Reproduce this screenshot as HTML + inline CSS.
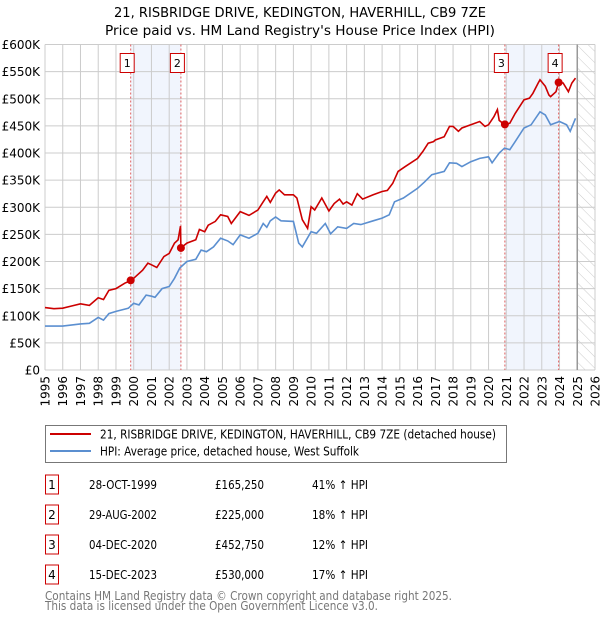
<!DOCTYPE html>
<html><head><meta charset="utf-8"><style>
body{margin:0;background:#fff;font-family:"DejaVu Sans","Liberation Sans",sans-serif;}
svg text{font-family:"DejaVu Sans","Liberation Sans",sans-serif;}
</style></head><body>
<svg id="chart" width="600" height="620" xmlns="http://www.w3.org/2000/svg">
<defs>
<pattern id="hatch" patternUnits="userSpaceOnUse" width="8" height="8" patternTransform="rotate(-45)">
<line x1="0" y1="0" x2="0" y2="8" stroke="#ccc" stroke-width="1"/>
</pattern>
</defs>
<text x="300" y="17" text-anchor="middle" font-size="13" textLength="372" lengthAdjust="spacingAndGlyphs">21, RISBRIDGE DRIVE, KEDINGTON, HAVERHILL, CB9 7ZE</text>
<text x="300" y="35" text-anchor="middle" font-size="13" textLength="390" lengthAdjust="spacingAndGlyphs">Price paid vs. HM Land Registry's House Price Index (HPI)</text>
<g id="plot"></g>
<g>
<rect x="45.5" y="425.5" width="461" height="37" fill="#fff" stroke="#777"/>
<line x1="50" y1="434" x2="91" y2="434" stroke="#cc0000" stroke-width="2"/>
<text x="100" y="438.5" font-size="12" textLength="396" lengthAdjust="spacingAndGlyphs">21, RISBRIDGE DRIVE, KEDINGTON, HAVERHILL, CB9 7ZE (detached house)</text>
<line x1="50" y1="451" x2="91" y2="451" stroke="#5b8fd0" stroke-width="2"/>
<text x="100" y="455.5" font-size="12" textLength="259" lengthAdjust="spacingAndGlyphs">HPI: Average price, detached house, West Suffolk</text>
</g>
<g id="table"></g>
<text x="45" y="600" font-size="12" fill="#777" textLength="407" lengthAdjust="spacingAndGlyphs">Contains HM Land Registry data © Crown copyright and database right 2025.</text>
<text x="45" y="610" font-size="12" fill="#777" textLength="333" lengthAdjust="spacingAndGlyphs">This data is licensed under the Open Government Licence v3.0.</text>
</svg>
<script>
const yTicks=[0,50,100,150,200,250,300,350,400,450,500,550,600];
const yTickLabels=["£0","£50K","£100K","£150K","£200K","£250K","£300K","£350K","£400K","£450K","£500K","£550K","£600K"];
const xYears=[1995,1996,1997,1998,1999,2000,2001,2002,2003,2004,2005,2006,2007,2008,2009,2010,2011,2012,2013,2014,2015,2016,2017,2018,2019,2020,2021,2022,2023,2024,2025,2026];
const redT=[1995.0,1995.5,1996.0,1996.5,1997.0,1997.5,1998.0,1998.3,1998.6,1999.0,1999.5,1999.83,2000.0,2000.5,2000.8,2001.0,2001.3,2001.7,2002.0,2002.3,2002.5,2002.64,2002.66,2003.0,2003.5,2003.7,2004.0,2004.2,2004.6,2004.9,2005.3,2005.5,2006.0,2006.5,2007.0,2007.3,2007.5,2007.7,2008.0,2008.2,2008.5,2009.0,2009.2,2009.5,2009.8,2010.0,2010.2,2010.6,2011.0,2011.3,2011.6,2011.8,2012.0,2012.3,2012.6,2012.9,2013.5,2014.0,2014.3,2014.6,2014.9,2015.3,2016.0,2016.3,2016.6,2016.9,2017.0,2017.5,2017.8,2018.0,2018.3,2018.5,2019.0,2019.5,2019.8,2020.0,2020.3,2020.5,2020.6,2020.92,2021.2,2021.5,2022.0,2022.3,2022.5,2022.8,2022.9,2023.2,2023.4,2023.5,2023.8,2023.95,2024.2,2024.5,2024.7,2024.9];
const redV=[115,113,114,118,122,119,133,130,147,150,160,165,169,184,197,194,189,209,215,234,240,265,225,234,240,259,255,267,274,286,283,270,292,285,295,310,320,309,326,332,323,323,317,277,261,301,295,317,293,307,315,306,310,304,325,315,323,329,331,344,366,375,390,403,418,421,424,430,449,449,440,446,452,458,449,452,467,480,460,452,455,473,498,501,510,529,535,523,507,504,513,530,529,513,529,538];
const blueT=[1995.0,1996.0,1997.0,1997.5,1998.0,1998.3,1998.6,1999.0,1999.7,2000.0,2000.3,2000.7,2001.0,2001.2,2001.6,2002.0,2002.3,2002.6,2003.0,2003.5,2003.8,2004.1,2004.5,2004.9,2005.3,2005.6,2006.0,2006.5,2007.0,2007.3,2007.5,2007.7,2008.0,2008.3,2009.0,2009.3,2009.5,2010.0,2010.3,2010.8,2011.1,2011.5,2012.0,2012.4,2012.8,2013.5,2014.0,2014.4,2014.7,2015.2,2016.0,2016.4,2016.8,2017.5,2017.8,2018.2,2018.5,2019.0,2019.5,2020.0,2020.2,2020.6,2020.9,2021.2,2021.5,2022.0,2022.4,2022.9,2023.2,2023.5,2024.0,2024.4,2024.6,2024.9];
const blueV=[81,81,85,86,97,92,104,108,114,123,120,138,136,134,150,154,169,188,200,204,221,218,227,243,238,231,249,243,252,270,263,275,282,275,274,234,227,255,252,270,251,264,261,270,268,275,280,286,310,317,335,347,360,366,382,381,375,384,390,393,382,400,409,406,421,446,452,476,470,452,458,452,440,464];
const saleT=[1999.83,2002.66,2020.92,2023.95];
const saleV=[165.25,225,452.75,530];
const saleDates=["28-OCT-1999","29-AUG-2002","04-DEC-2020","15-DEC-2023"];
const salePrices=["£165,250","£225,000","£452,750","£530,000"];
const saleHpi=["41% ↑ HPI","18% ↑ HPI","12% ↑ HPI","17% ↑ HPI"];

const NS="http://www.w3.org/2000/svg";
const L=45,R=595,T=44.5,B=370;
const x=t=>L+(t-1995)/(2026-1995)*(R-L);
const y=v=>B-v/600*(B-T);
function mk(tag,attrs,parent){const e=document.createElementNS(NS,tag);for(const k in attrs)e.setAttribute(k,attrs[k]);parent.appendChild(e);return e;}
const plot=document.getElementById('plot');
for(let i=0;i<4;i+=2){
 const r=mk('rect',{x:x(saleT[i]),y:T,width:x(saleT[i+1])-x(saleT[i]),height:B-T,fill:'#eef3fc',opacity:0.8},plot);
 
 
}
yTicks.forEach((v,i)=>{
 const g=mk('line',{x1:L,x2:R,y1:y(v),y2:y(v),stroke:'#ccc','stroke-width':1},plot);
 
 
 const t=mk('text',{x:40,y:y(v)+4.5,'text-anchor':'end','font-size':12},plot);
 t.textContent=yTickLabels[i];
 
 
});
xYears.forEach(yr=>{
 const g=mk('line',{x1:x(yr),x2:x(yr),y1:T,y2:B,stroke:'#ccc','stroke-width':1},plot);
 
 
 const t=mk('text',{transform:`translate(${x(yr)+4.5},376) rotate(-90)`,'text-anchor':'end','font-size':12},plot);
 t.textContent=yr;
 
 
});
const h=mk('rect',{x:x(2025),y:T,width:x(2026)-x(2025),height:B-T,fill:'url(#hatch)'},plot);


const hl=mk('line',{x1:x(2025),x2:x(2025),y1:T,y2:B,stroke:'#999','stroke-width':1.5},plot);


saleT.forEach((t,i)=>{
 const l=mk('line',{x1:x(t),x2:x(t),y1:T,y2:B,stroke:'#e06060','stroke-width':1,'stroke-dasharray':'2,2'},plot);
 
 
});
const pts=(ts,vs)=>ts.map((t,i)=>x(t).toFixed(1)+','+y(vs[i]).toFixed(1)).join(' ');
const bl=mk('polyline',{points:pts(blueT,blueV),fill:'none',stroke:'#5b8fd0','stroke-width':1.6},plot);


const rl=mk('polyline',{points:pts(redT,redV),fill:'none',stroke:'#cc0000','stroke-width':1.6},plot);


saleT.forEach((t,i)=>{
 const c=mk('circle',{cx:x(t),cy:y(saleV[i]),r:4,fill:'#cc0000'},plot);
 
 
 const bx=x(t)-10.5;
 const r=mk('rect',{x:bx,y:53.5,width:14,height:19,fill:'#fff',stroke:'#cc0000'},plot);
 
 
 const tx=mk('text',{x:bx+7,y:67,'text-anchor':'middle','font-size':11},plot);
 tx.textContent=i+1;
 
 
});
const tb=document.getElementById('table');
saleDates.forEach((d,i)=>{
 const cy=485+i*30;
 const r=mk('rect',{x:45.5,y:cy-10,width:13,height:19,fill:'#fff',stroke:'#cc0000'},tb);
 
 
 const n=mk('text',{x:52,y:cy+4,'text-anchor':'middle','font-size':12},tb);n.textContent=i+1;
 
 
 const a=mk('text',{x:89,y:cy+4,'font-size':12,textLength:68,lengthAdjust:'spacingAndGlyphs'},tb);a.textContent=d;
 
 
 const p=mk('text',{x:215,y:cy+4,'font-size':12,textLength:49,lengthAdjust:'spacingAndGlyphs'},tb);p.textContent=salePrices[i];
 
 
 const q=mk('text',{x:312,y:cy+4,'font-size':12,textLength:56,lengthAdjust:'spacingAndGlyphs'},tb);q.textContent=saleHpi[i];
 
 
});
</script>
</body></html>
